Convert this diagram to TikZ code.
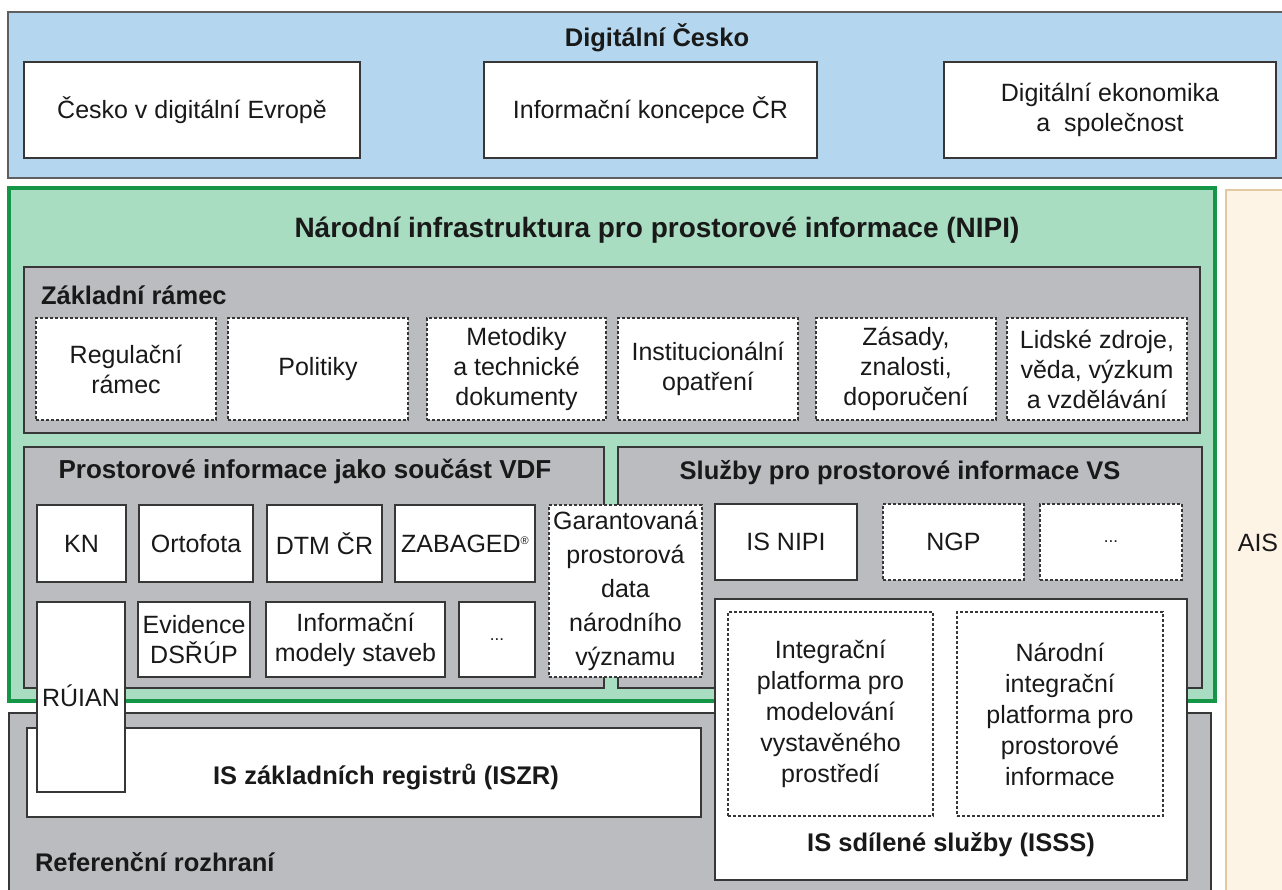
\documentclass[tikz,border=0pt]{standalone}
\usepackage{fontspec}
\setmainfont{Liberation Sans}
\definecolor{hdrblue}{RGB}{180,214,238}
\definecolor{nipigreen}{RGB}{168,221,194}
\definecolor{nipiborder}{RGB}{20,150,70}
\definecolor{panelgray}{RGB}{186,188,192}
\definecolor{aisbeige}{RGB}{254,244,229}
\definecolor{aisborder}{RGB}{228,200,160}
\definecolor{edge}{RGB}{55,55,55}
\definecolor{ink}{RGB}{25,25,25}
\newcommand{\mkbox}[7]{%
  \pgfmathsetmacro{\mkbw}{#5-#3}\pgfmathsetmacro{\mkbh}{#6-#4}%
  \node[#2, minimum width=\mkbw pt, minimum height=\mkbh pt] (#1) at ({(#3+#5)/2},{(#4+#6)/2}) {#7};}
\tikzset{
  base/.style={inner sep=0pt, outer sep=0pt, text=ink, font=\fontsize{25}{30}\selectfont, align=center},
  whitebox/.style={base, draw=edge, line width=1.4pt, fill=white},
  dashbox/.style={base, draw=edge, line width=1.3pt, dash pattern=on 3pt off 2pt, fill=white},
  panel/.style={base, draw=edge, line width=1.4pt, fill=panelgray},
  title/.style={base, font=\fontsize{25.5}{30}\selectfont\bfseries},
  txt/.style={base},
}
\begin{document}
\begin{tikzpicture}[x=1pt,y=-1pt]
\useasboundingbox (0,0) rectangle (1282,889);
% header
\mkbox{dc}{base, fill=hdrblue, draw=edge!80, line width=1.2pt}{8}{12}{1284}{178}{}
\node[title] (dctitle) at (657,38) {Digitální Česko};
\mkbox{cde}{whitebox}{24}{62}{360}{158}{Česko v digitální Evropě}
\mkbox{ikc}{whitebox}{484}{62}{817}{158}{Informační koncepce ČR}
\mkbox{des}{whitebox}{944}{62}{1276}{158}{Digitální ekonomika\\a~~společnost}
% AIS strip
\mkbox{ais}{base, fill=aisbeige, draw=aisborder, line width=1.5pt}{1226}{190}{1286}{893}{}
\node[txt] (aistxt) at (1258,543) {AIS};
% bottom reference layer
\mkbox{ref}{panel}{9}{713}{1211}{895}{}
\node[title, anchor=west] (reftxt) at (35,862) {Referenční rozhraní};
\mkbox{iszr}{whitebox}{27}{728}{701}{817}{}
\node[title] (iszrtxt) at (386,777) {IS základních registrů (ISZR)};
% NIPI
\mkbox{nipi}{base, fill=nipigreen, draw=nipiborder, line width=4pt}{9}{188}{1215}{701}{}
\node[title, font=\fontsize{28}{32}\selectfont\bfseries] (nipititle) at (657,230) {Národní infrastruktura pro prostorové informace (NIPI)};
% Zakladni ramec
\mkbox{zr}{panel}{24}{267}{1200}{433}{}
\node[title, anchor=west] (zrtitle) at (41,295) {Základní rámec};
\mkbox{reg}{dashbox}{36}{318}{216}{420}{Regulační\\rámec}
\mkbox{pol}{dashbox}{228}{318}{408}{420}{Politiky}
\mkbox{met}{dashbox}{427}{318}{606}{420}{Metodiky\\a technické\\dokumenty}
\mkbox{ins}{dashbox}{618}{318}{798}{420}{Institucionální\\opatření}
\mkbox{zas}{dashbox}{816}{318}{996}{420}{Zásady,\\znalosti,\\doporučení}
\mkbox{lid}{dashbox}{1007}{318}{1187}{420}{Lidské zdroje,\\věda, výzkum\\a vzdělávání}
% VDF
\mkbox{vdf}{panel}{24}{447}{604}{688}{}
\node[title, font=\fontsize{26}{30}\selectfont\bfseries] (vdftitle) at (305,471) {Prostorové informace jako součást VDF};
\mkbox{kn}{whitebox}{37}{505}{126}{582}{KN}
\mkbox{orto}{whitebox}{139}{505}{253}{582}{Ortofota}
\mkbox{dtm}{whitebox}{267}{505}{382}{582}{DTM ČR}
\mkbox{zab}{whitebox}{395}{505}{535}{582}{ZABAGED\raisebox{8pt}{\fontsize{11}{11}\selectfont ®}}
\mkbox{evi}{whitebox}{138}{602}{250}{677}{Evidence\\DSŘÚP}
\mkbox{ims}{whitebox}{266}{602}{445}{677}{Informační\\modely staveb}
\mkbox{dots1}{whitebox}{459}{602}{535}{677}{\fontsize{17}{17}\selectfont ...}
% Sluzby
\mkbox{svs}{panel}{618}{447}{1202}{688}{}
\node[title] (svstitle) at (900,473) {Služby pro prostorové informace VS};
\mkbox{isnipi}{whitebox}{715}{504}{857}{580}{IS NIPI}
\mkbox{ngp}{dashbox}{883}{504}{1024}{580}{NGP}
\mkbox{dots2}{dashbox}{1040}{504}{1182}{580}{\fontsize{17}{17}\selectfont ...}
% Garantovana
\mkbox{gar}{dashbox, font=\fontsize{25}{34}\selectfont}{549}{505}{702}{677}{Garantovaná\\prostorová\\data\\národního\\významu}
% RUIAN
\mkbox{ruian}{whitebox}{37}{602}{125}{792}{}
\node[txt] (ruiantxt) at (81,696) {RÚIAN};
% ISSS
\mkbox{isss}{whitebox}{715}{599}{1187}{880}{}
\mkbox{ipm}{dashbox, font=\fontsize{25}{31}\selectfont}{728}{612}{933}{816}{Integrační\\platforma pro\\modelování\\vystavěného\\prostředí}
\mkbox{nip}{dashbox, font=\fontsize{25}{31}\selectfont}{957}{612}{1163}{816}{Národní\\integrační\\platforma pro\\prostorové\\informace}
\node[title] (issstitle) at (951,845) {IS sdílené služby (ISSS)};
\end{tikzpicture}
\end{document}
